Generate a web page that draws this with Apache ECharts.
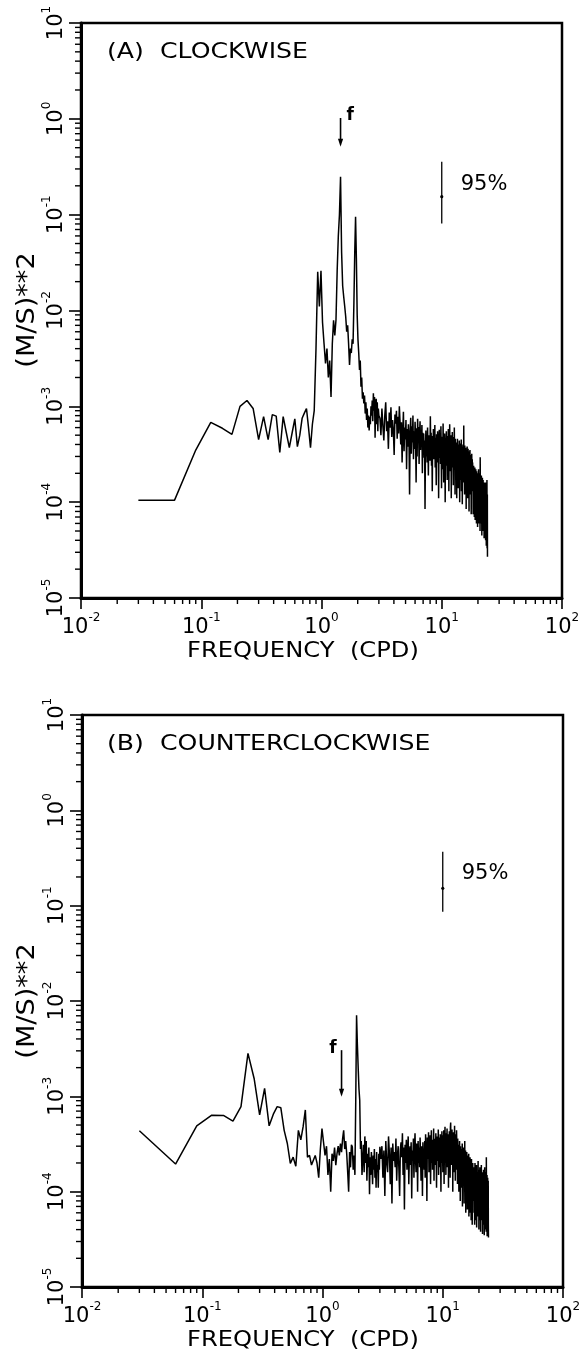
<!DOCTYPE html>
<html><head><meta charset="utf-8">
<script src="https://cdn.jsdelivr.net/npm/echarts@6/dist/echarts.min.js"></script>
<style>html,body{margin:0;padding:0;background:#fff}#c{width:586px;height:1352px}</style>
</head><body><div id="c"></div>
<script>
// ---------------- data ----------------
const UNIT = 1e-4;              // values below are in units of 1e-4 (m/s)^2
const LOW_STEP = 0.03;          // frequency resolution (cpd), first point at 0.03
const TAIL_START = 3.0;         // tail section starts after 3.00 cpd
const TAIL_STEP = 0.06;         // tail section spacing (cpd)

// (A) clockwise, 0.03 .. 3.00 cpd
const cwLow = [1.05,1.05,3.5,6.8,5.9,5.1,10.0,11.5,9.5,4.5,
  7.8,4.5,8.2,7.9,3.3,7.8,5.3,3.7,5.3,7.4,
  3.8,5.0,7.5,8.5,9.5,6.0,3.7,6.5,9.0,40,
  254,110,260,75,45,28,40,20,30,12.5,
  45,79,55,80,260,600,1000,2490,400,180,
  139,110,86,60,70,45,27,40,36,50,
  45,120,400,950,350,90,50,36,24,30,
  16,20,12,14,10.7,13,8.4,11,7.2,9.5,
  6.0,8.0,5.6,7.8,6.5,10,8.0,11.5,7.0,13.7,
  9.0,12.5,4.7,10.5,12,6.5,11,5.5,9.5,8.0];
// (A) clockwise, 3.06 .. 24.00 cpd
const cwTail = [
  7.5,5.0,9.5,6.2,4.4,8.0,11.0,5.5,7.0,3.6,8.6,6.0,9.8,4.8,7.2,5.6,3.1,8.2,6.6,9.0,4.6,7.8,5.2,10.0,6.8,
  4.0,6.8,2.6,5.4,8.8,3.4,6.0,4.5,7.2,2.2,5.8,3.8,6.5,4.9,1.2,5.2,7.6,3.2,6.2,4.2,8.0,2.8,5.5,3.6,6.9,
  4.6,1.6,5.9,3.0,7.4,4.4,6.1,2.5,5.0,7.0,3.5,5.6,4.1,6.4,2.0,5.3,3.9,
  5.2,2.9,4.4,0.85,3.6,5.6,3.0,4.8,2.6,6.0,3.8,1.9,5.0,3.3,4.5,2.7,7.9,3.5,5.3,2.4,
  4.1,1.3,4.9,3.1,5.8,2.8,4.3,3.6,6.4,2.3,4.7,3.2,1.5,5.1,3.9,2.6,5.5,3.4,4.6,1.1,
  4.0,5.7,2.9,3.7,4.9,2.5,6.2,3.3,1.4,4.4,
  3.0,4.8,2.2,6.6,3.5,1.6,4.4,2.7,5.2,3.3,1.0,4.6,2.9,3.9,5.5,2.4,4.1,1.7,4.9,3.1,
  2.5,5.8,3.6,1.3,4.3,2.8,6.5,3.2,4.7,2.1,3.8,5.0,1.1,4.2,2.6,3.5,5.4,2.3,4.5,3.0,
  1.5,4.8,3.4,2.2,6.0,2.9,4.0,1.2,4.6,3.3,
  2.4,4.2,1.8,3.5,1.1,3.9,2.6,4.6,2.0,3.2,1.4,4.0,2.8,3.6,1.9,4.4,2.3,1.0,3.7,2.7,
  4.1,1.7,3.3,2.4,4.5,1.3,3.0,2.1,3.8,0.95,3.4,2.5,4.0,1.6,3.1,2.2,6.3,1.8,3.6,2.6,
  1.2,3.9,2.3,3.2,1.5,3.7,2.0,2.9,0.85,3.5,2.4,3.0,1.7,3.8,2.2,1.1,3.3,2.6,3.6,1.4,
  2.8,2.0,3.4,0.8,3.0,2.3,2.7,1.6,3.5,1.9,2.5,1.2,3.1,2.1,2.9,0.75,2.6,1.8,3.2,1.5,
  2.3,2.8,1.3,
  2.6,1.3,2.2,0.75,1.9,1.5,2.4,1.0,1.7,2.1,0.7,1.8,1.2,2.3,1.4,0.65,2.0,1.1,1.6,2.2,
  0.9,1.9,1.3,0.6,2.1,1.5,1.0,1.8,1.2,2.0,0.55,1.6,1.1,1.9,0.8,1.4,2.2,1.0,1.7,0.6,
  1.5,1.2,1.8,0.9,2.0,1.3,0.5,2.95,1.1,1.6,0.8,1.4,1.7,0.6,1.2,1.9,0.9,1.5,0.45,1.3,
  1.6,1.0,1.8,0.7,1.2,1.4,0.5,1.7,1.0,1.3,0.6,1.5,0.9,1.2,0.42,1.4,1.1,1.6,0.7,1.0,
  1.3,0.5,1.5,0.8,1.1,0.4,1.2,1.6,0.6,1.0,0.35,1.3,0.8,1.1,0.5,1.7,0.33,0.9,1.2,0.27];

// (B) counterclockwise, 0.03 .. 3.00 cpd
const ccwLow = [4.35,1.95,4.9,6.35,6.3,5.5,7.8,28.2,15.4,6.4,
  12.1,4.9,6.5,7.8,7.6,4.4,3.2,1.98,2.3,1.85,
  4.4,3.5,4.8,7.2,2.3,2.4,1.9,1.85,2.4,2.0,
  1.4,2.8,4.6,3.3,2.4,3.0,1.5,2.2,1.0,2.5,
  2.1,2.9,1.9,2.5,3.0,2.4,3.2,2.6,3.6,4.4,
  2.8,3.4,2.5,1.6,1.0,2.6,1.8,3.1,2.95,1.7,
  2.4,1.5,9.0,71,35,20,12,9.1,2.8,3.4,
  1.5,2.2,3.1,1.6,3.8,2.0,3.4,1.3,2.5,1.8,
  2.9,0.94,2.3,1.5,2.6,1.9,1.2,2.4,1.7,2.8,
  1.4,2.2,1.1,2.6,1.6,1.9,1.1,2.5,1.7,2.95];
// (B) counterclockwise, 3.06 .. 24.00 cpd
const ccwTail = [
  2.2,3.0,1.4,2.7,0.9,3.4,2.0,1.6,3.8,2.5,1.2,2.9,0.75,3.2,2.1,2.6,1.8,3.6,1.3,2.4,3.0,1.7,0.9,2.8,3.3,
  2.3,4.1,1.5,2.9,0.65,3.1,2.0,3.5,1.7,2.6,3.8,1.2,2.4,3.0,1.9,3.3,0.85,2.7,2.1,3.6,
  1.4,2.8,4.1,2.2,1.6,3.2,2.5,1.0,3.4,2.0,2.9,1.8,3.7,2.3,1.3,3.0,2.6,0.9,3.3,2.1,2.7,1.7,
  3.4,1.4,4.0,2.5,3.1,0.8,3.7,2.2,2.9,4.2,1.6,3.3,2.6,3.9,1.2,2.8,4.4,2.0,3.5,1.7,
  3.0,2.4,4.6,1.3,3.6,2.7,3.2,1.9,4.1,2.3,1.1,3.8,2.9,3.4,2.1,4.5,1.5,3.0,2.6,3.7,
  1.8,4.0,2.4,1.0,3.5,2.8,4.3,2.0,3.2,1.6,
  3.9,2.4,4.4,1.2,3.3,2.8,4.8,2.0,3.6,1.5,4.1,2.6,3.4,4.6,1.8,3.0,2.3,4.0,1.1,3.7,
  2.9,4.3,2.1,3.5,1.4,4.7,5.3,2.5,3.8,1.9,3.2,4.5,2.2,3.9,1.0,3.4,2.7,4.2,1.6,3.6,
  2.4,4.9,2.0,3.1,1.3,4.0,2.8,3.5,1.7,4.4,
  3.3,1.8,2.9,1.2,3.6,2.2,2.6,1.5,3.1,1.0,2.7,1.9,3.4,1.3,2.4,0.8,3.0,2.1,2.5,1.4,
  2.8,1.1,2.3,1.7,3.2,0.7,2.6,1.9,2.2,1.3,2.9,1.6,2.0,0.75,2.5,1.8,3.4,1.2,2.1,1.5,
  2.7,0.6,2.3,1.6,1.9,1.1,2.6,1.4,2.0,0.65,2.2,1.7,2.4,1.0,1.8,1.3,2.5,0.55,1.9,1.5,
  2.1,1.1,1.6,2.3,0.6,1.8,1.2,2.0,1.4,0.5,1.7,2.2,1.0,1.5,1.9,0.45,1.6,1.2,2.0,0.8,
  1.8,1.3,1.5,
  1.1,1.8,0.6,1.4,0.9,1.6,0.45,1.3,2.0,0.8,1.2,1.5,0.5,1.7,1.0,1.3,0.7,1.9,0.42,1.1,
  1.4,0.8,1.6,1.2,0.55,1.5,0.9,2.1,0.6,1.3,1.0,1.7,0.4,1.2,1.5,0.75,1.4,0.5,1.8,1.1,
  0.65,1.3,1.6,0.38,1.2,0.9,1.5,0.7,1.9,0.5,1.1,1.4,0.6,1.3,0.85,1.6,0.36,1.0,1.4,0.55,
  1.5,0.7,1.2,1.7,0.45,1.1,0.9,1.4,0.35,1.3,0.6,1.8,0.8,1.1,0.4,1.5,1.0,1.3,0.5,1.6,
  0.7,1.2,0.38,2.3,0.9,1.4,0.5,1.1,1.5,0.34,1.2,0.6,1.0,1.4,0.4,1.1,0.7,1.3,0.45,0.33];

// axes
const X_MIN = 0.01, X_MAX = 100;
const Y_MIN = 1e-5, Y_MAX = 10;
const X_DECADES = [-2, -1, 0, 1];
const Y_DECADES = [-5, -4, -3, -2, -1, 0];
const MINOR_MULTIPLES = [2, 3, 4, 5, 6, 7, 8, 9];

// annotations
const INERTIAL_F = 1.44;                       // cpd
const arrowA = [INERTIAL_F, 1.02, 0.51];       // freq, top, tip
const arrowB = [INERTIAL_F, 3.05e-3, 9.9e-4];
const CI_F = 10;
const ciA = [CI_F, 0.356, 0.154, 0.081];       // freq, upper, estimate, lower
const ciB = [CI_F, 0.368, 0.152, 0.0863];

const panelTitles = ['(A)  CLOCKWISE', '(B)  COUNTERCLOCKWISE'];
const xTitle = 'FREQUENCY  (CPD)';
const yTitle = '(M/S)**2';

// ---------------- build ----------------
function r3(v){ return Math.round(v * 1000) / 1000; }
function build(low, tail){
  const out = [];
  low.forEach((v, i) => out.push([r3(LOW_STEP * (i + 1)), v * UNIT]));
  tail.forEach((v, j) => out.push([r3(TAIL_START + TAIL_STEP * (j + 1)), v * UNIT]));
  return out;
}
const FONT = '"DejaVu Sans", sans-serif';
const grids = [
  {left: 81, top: 23, width: 481, height: 575},
  {left: 82, top: 715, width: 481, height: 572}
];

function supLabel(v){ return '{b|10}{s|' + Math.round(Math.log10(v)) + '}'; }
const richX = {
  b: {fontSize: 21, fontFamily: FONT, color: '#000', lineHeight: 26, verticalAlign: 'bottom'},
  s: {fontSize: 12, fontFamily: FONT, color: '#000', lineHeight: 26, verticalAlign: 'top'}
};

function minorSeries(gi, axis){
  const data = [];
  if (axis === 'x') X_DECADES.forEach(d => MINOR_MULTIPLES.forEach(m => data.push([m * Math.pow(10, d), Y_MIN])));
  else Y_DECADES.forEach(d => MINOR_MULTIPLES.forEach(m => data.push([X_MIN, m * Math.pow(10, d)])));
  return {
    type: 'custom', xAxisIndex: gi, yAxisIndex: gi, silent: true, clip: false, z: 5, data,
    renderItem(params, api){
      const p = api.coord([api.value(0), api.value(1)]);
      const L = 6;
      const shape = axis === 'x' ? {x1: p[0], y1: p[1], x2: p[0], y2: p[1] + L}
                                 : {x1: p[0], y1: p[1], x2: p[0] - L, y2: p[1]};
      return {type: 'line', shape, style: {stroke: '#000', lineWidth: 1.4}};
    }
  };
}

function arrowSeries(gi, d, side){
  return {
    type: 'custom', xAxisIndex: gi, yAxisIndex: gi, silent: true, clip: false, z: 6, data: [d],
    renderItem(params, api){
      const t = api.coord([api.value(0), api.value(1)]);
      const b = api.coord([api.value(0), api.value(2)]);
      const x = t[0];
      return {type: 'group', children: [
        {type: 'line', shape: {x1: x, y1: t[1], x2: x, y2: b[1] - 5}, style: {stroke: '#000', lineWidth: 1.6}},
        {type: 'polygon', shape: {points: [[x - 2.6, b[1] - 8], [x + 2.6, b[1] - 8], [x, b[1]]]}, style: {fill: '#000'}},
        {type: 'text', x: x + (side === 'right' ? 6 : -5), y: t[1] - 2,
         style: {text: 'f', fill: '#000', font: 'bold 17px ' + FONT, align: side === 'right' ? 'left' : 'right', verticalAlign: 'middle'}}
      ]};
    }
  };
}

function ciSeries(gi, d){
  return {
    type: 'custom', xAxisIndex: gi, yAxisIndex: gi, silent: true, clip: false, z: 6, data: [d],
    renderItem(params, api){
      const t = api.coord([api.value(0), api.value(1)]);
      const m = api.coord([api.value(0), api.value(2)]);
      const b = api.coord([api.value(0), api.value(3)]);
      const x = t[0];
      return {type: 'group', children: [
        {type: 'line', shape: {x1: x, y1: t[1], x2: x, y2: b[1]}, style: {stroke: '#000', lineWidth: 1.3}},
        {type: 'circle', shape: {cx: x, cy: m[1], r: 1.6}, style: {fill: '#000'}},
        {type: 'text', x: x + 19, y: (t[1] + b[1]) / 2 - 8,
         style: {text: '95%', fill: '#000', font: '21px ' + FONT, align: 'left', verticalAlign: 'middle'}}
      ]};
    }
  };
}

const option = {
  animation: false,
  backgroundColor: '#fff',
  textStyle: {fontFamily: FONT, color: '#000'},
  grid: grids.map(g => Object.assign({show: true, borderColor: '#000', borderWidth: 2.5, backgroundColor: 'transparent'}, g)),
  xAxis: grids.map((g, i) => ({
    type: 'log', logBase: 10, gridIndex: i, min: X_MIN, max: X_MAX,
    axisLine: {show: true, lineStyle: {color: '#000', width: 3}},
    axisTick: {show: true, inside: false, length: 11, lineStyle: {color: '#000', width: 1.6}},
    splitLine: {show: false}, minorTick: {show: false},
    axisLabel: {margin: 14, formatter: supLabel, rich: richX, color: '#000'}
  })),
  yAxis: grids.map((g, i) => ({
    type: 'log', logBase: 10, gridIndex: i, min: Y_MIN, max: Y_MAX,
    axisLine: {show: true, lineStyle: {color: '#000', width: 3}},
    axisTick: {show: true, inside: false, length: 12, lineStyle: {color: '#000', width: 1.6}},
    splitLine: {show: false}, minorTick: {show: false},
    axisLabel: {margin: 14, rotate: 90, formatter: supLabel, rich: richX, color: '#000'}
  })),
  series: [
    {type: 'line', xAxisIndex: 0, yAxisIndex: 0, data: build(cwLow, cwTail), symbol: 'none',
     lineStyle: {color: '#000', width: 1.5}, clip: true, z: 3},
    {type: 'line', xAxisIndex: 1, yAxisIndex: 1, data: build(ccwLow, ccwTail), symbol: 'none',
     lineStyle: {color: '#000', width: 1.5}, clip: true, z: 3},
    minorSeries(0, 'x'), minorSeries(0, 'y'), minorSeries(1, 'x'), minorSeries(1, 'y'),
    arrowSeries(0, arrowA, 'right'), arrowSeries(1, arrowB, 'left'),
    ciSeries(0, ciA), ciSeries(1, ciB)
  ],
  graphic: [
    {type: 'text', x: 107, y: 53, scaleX: 1.2, style: {text: panelTitles[0], font: '21px ' + FONT, fill: '#000', align: 'left', verticalAlign: 'middle'}},
    {type: 'text', x: 107, y: 745, scaleX: 1.2, style: {text: panelTitles[1], font: '21px ' + FONT, fill: '#000', align: 'left', verticalAlign: 'middle'}},
    {type: 'text', x: 28, y: 310, rotation: Math.PI / 2, scaleX: 1.13, style: {text: yTitle, font: '24px ' + FONT, fill: '#000', align: 'center', verticalAlign: 'middle'}},
    {type: 'text', x: 28, y: 1001, rotation: Math.PI / 2, scaleX: 1.13, style: {text: yTitle, font: '24px ' + FONT, fill: '#000', align: 'center', verticalAlign: 'middle'}},
    {type: 'text', x: 303, y: 651, scaleX: 1.1, style: {text: xTitle, font: '22px ' + FONT, fill: '#000', align: 'center', verticalAlign: 'middle'}},
    {type: 'text', x: 303, y: 1340, scaleX: 1.1, style: {text: xTitle, font: '22px ' + FONT, fill: '#000', align: 'center', verticalAlign: 'middle'}}
  ]
};
const chart = echarts.init(document.getElementById('c'), null, {renderer: 'canvas'});
chart.setOption(option);
</script></body></html>
